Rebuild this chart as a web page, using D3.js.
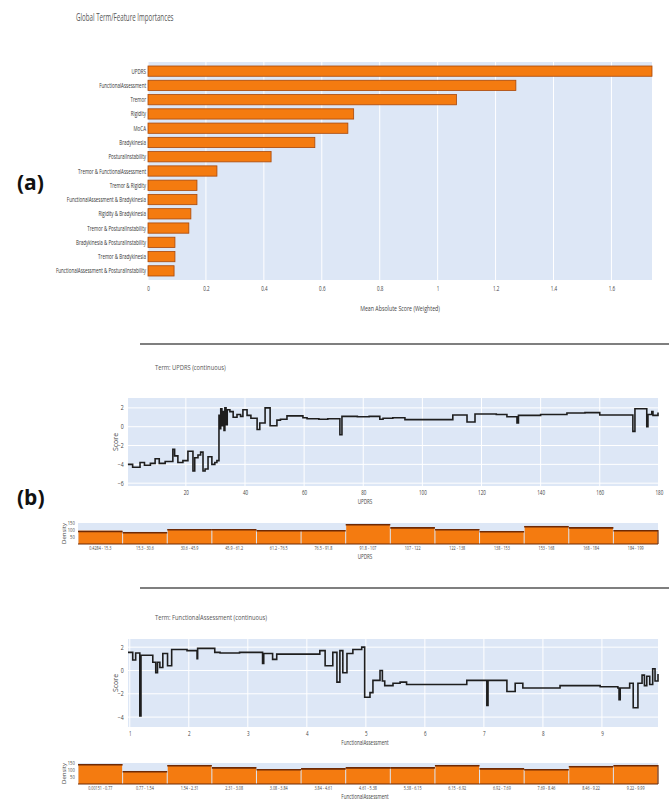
<!DOCTYPE html>
<html>
<head>
<meta charset="utf-8">
<script src="https://cdn.jsdelivr.net/npm/d3@7"></script>
<style>
  body { margin: 0; background: #fff; }
  text { font-family: "Open Sans", "DejaVu Sans", sans-serif; }
  .domain { display: none; }
</style>
</head>
<body>
<div id="chart"></div>
<script>
// feature importances
var features = ["UPDRS", "FunctionalAssessment", "Tremor", "Rigidity", "MoCA", "Bradykinesia",
  "PosturalInstability", "Tremor & FunctionalAssessment", "Tremor & Rigidity",
  "FunctionalAssessment & Bradykinesia", "Rigidity & Bradykinesia", "Tremor & PosturalInstability",
  "Bradykinesia & PosturalInstability", "Tremor & Bradykinesia", "FunctionalAssessment & PosturalInstability"]
var importances = [1.74, 1.27, 1.065, 0.71, 0.69, 0.576, 0.425, 0.238, 0.169, 0.169, 0.148, 0.141, 0.093, 0.093, 0.09]
var importanceTicks = [0, 0.2, 0.4, 0.6, 0.8, 1, 1.2, 1.4, 1.6]

// UPDRS term
var updrsX = [0.4, 2, 4.5, 6, 8, 9.6, 11, 13, 15.6, 16.2, 17.3, 19, 20.7, 22.4, 23, 24.1, 25, 25.8, 26.5, 27.5,
  28.8, 29.8, 30.5, 31.2, 31.5, 31.8, 32.2, 32.5, 32.9, 33.2, 33.6, 34, 34.9, 36, 37.3, 38.5, 39.3, 40.7, 42, 44.1,
  45, 46.8, 48.5, 50.8, 52, 54.2, 57, 59.6, 61, 65, 68, 72.1, 72.8, 78, 82, 85.6, 86.7, 90, 94.1, 101.5,
  110.3, 115.1, 117.8, 125, 128.6, 132, 132.5, 140, 148.9, 155, 160, 171.2, 171.9, 175.9, 176.3, 177.6, 178, 179.7]
var updrsScore = [-4.0, -4.3, -3.8, -4.1, -3.9, -3.4, -3.9, -3.7, -2.4, -3.1, -3.8, -3.6, -2.6, -4.7, -3.3, -3.0, -2.7, -4.7, -4.5, -3.2,
  -4.0, -3.8, -3.6, 1.2, -0.2, 1.9, 0.1, 1.6, -0.4, 2.0, 0.2, 1.8, 1.6, 1.0, 1.3, 1.1, 1.8, 1.2, 0.9, -0.3,
  0.4, 2.0, 0.1, 0.7, 0.8, 1.15, 1.15, 0.95, 0.85, 0.8, 0.85, -0.85, 1.1, 1.05, 1.1, 0.8, 0.9, 0.95, 0.75, 0.75,
  1.25, 0.5, 1.35, 1.3, 1.05, 0.4, 1.2, 1.3, 1.45, 1.5, 1.25, -0.5, 1.9, 0.0, 1.3, 1.6, 1.2, 1.5]
var updrsXTicks = [20, 40, 60, 80, 100, 120, 140, 160, 180]
var scoreTicksU = [2, 0, -2, -4, -6]

var updrsBins = ["0.4284 - 15.3", "15.3 - 30.6", "30.6 - 45.9", "45.9 - 61.2", "61.2 - 76.5", "76.5 - 91.8",
  "91.8 - 107", "107 - 122", "122 - 138", "138 - 153", "153 - 168", "168 - 184", "184 - 199"]
var updrsDensity = [95, 86, 107, 107, 100, 100, 143, 121, 107, 93, 129, 121, 100]

// FunctionalAssessment term
var faX = [0.97, 1.05, 1.1, 1.17, 1.19, 1.25, 1.39, 1.44, 1.47, 1.51, 1.56, 1.64, 1.71, 1.97, 2.14, 2.15, 2.19, 2.44, 2.53, 2.86,
  3.25, 3.27, 3.29, 3.42, 3.49, 4.22, 4.31, 4.34, 4.44, 4.51, 4.56, 4.61, 4.68, 4.78, 4.93, 4.98, 5.07, 5.12, 5.24, 5.28,
  5.32, 5.46, 5.58, 5.69, 6.71, 7.05, 7.07, 7.39, 7.53, 7.66, 8.29, 8.97, 9.27, 9.29, 9.31, 9.47, 9.53, 9.61, 9.68, 9.72,
  9.76, 9.81, 9.86, 9.9, 9.95]
var faScore = [1.55, 0.9, 1.5, -3.9, 1.3, 1.3, 0.7, -0.2, 0.7, 0.26, 1.45, 0.4, 1.8, 1.7, 1.0, 1.9, 1.9, 1.55, 1.5, 1.55,
  0.6, 1.45, 1.45, 0.95, 1.4, 1.7, 0.4, 0.4, 1.55, -1.0, 1.7, -0.2, 1.45, 1.8, 2.0, -2.3, -1.9, -0.85, 0.0, -0.9,
  -1.3, -1.1, -1.0, -1.2, -0.85, -3.0, -0.85, -1.8, -1.1, -1.5, -1.3, -1.4, -1.5, -2.5, -1.5, -1.1, -3.2, -1.1, -0.4, -1.3,
  -0.5, -1.2, 0.15, -0.9, -0.3]
var faXTicks = [1, 2, 3, 4, 5, 6, 7, 8, 9]
var scoreTicksF = [2, 0, -2, -4]

var faBins = ["0.00151 - 0.77", "0.77 - 1.54", "1.54 - 2.31", "2.31 - 3.08", "3.08 - 3.84", "3.84 - 4.61",
  "4.61 - 5.38", "5.38 - 6.15", "6.15 - 6.92", "6.92 - 7.69", "7.69 - 8.46", "8.46 - 9.22", "9.22 - 9.99"]
var faDensity = [143, 93, 136, 121, 107, 114, 121, 121, 136, 114, 107, 129, 136]
var densityTicks = [50, 100, 150]

var width = 669, height = 802
var bg = "#dde7f6", orange = "#f47b10", edge = "#a8480a", lineCol = "#1e1e1e"

var svg = d3.select("#chart").append("svg")
    .attr("width", width)
    .attr("height", height)

// condensed text helper (the figure is squeezed horizontally)
function ctext(x, y, str, size, anchor, sx, color) {
  return svg.append("text")
    .attr("transform", "translate(" + x + "," + y + ") scale(" + sx + ",1)")
    .attr("text-anchor", anchor)
    .style("font-size", size + "px")
    .style("fill", color || "#444")
    .text(str)
}

function styleAxis(g, sx, size) {
  g.selectAll(".tick line").remove()
  g.selectAll("text")
    .attr("transform", "scale(" + sx + ",1)")
    .style("font-size", (size || 7) + "px")
    .style("fill", "#444")
}

// ---------------- (a) global importances ----------------
var aL = 148, aR = 652, aT = 62, aB = 280

ctext(76, 21, "Global Term/Feature Importances", 10, "start", 0.62, "#555")

svg.append("rect").attr("x", aL).attr("y", aT).attr("width", aR - aL).attr("height", aB - aT).attr("fill", bg)

var xA = d3.scaleLinear().domain([0, 1.74]).range([aL, aR])
var yA = d3.scaleBand().domain(features).range([aT, aB]).padding(0.28)

svg.append("g").selectAll("line")
  .data(importanceTicks)
  .enter().append("line")
  .attr("x1", function(d) { return xA(d) }).attr("x2", function(d) { return xA(d) })
  .attr("y1", aT).attr("y2", aB)
  .attr("stroke", "#fff").attr("stroke-width", 1)

svg.append("g").selectAll("rect")
  .data(features)
  .enter().append("rect")
  .attr("x", aL)
  .attr("y", function(d) { return yA(d) })
  .attr("width", function(d, i) { return xA(importances[i]) - aL })
  .attr("height", yA.bandwidth())
  .attr("fill", orange)
  .attr("stroke", edge)
  .attr("stroke-width", 0.8)

features.forEach(function(f) {
  ctext(aL - 2, yA(f) + yA.bandwidth() / 2 + 2.5, f, 7.5, "end", 0.6, "#333")
})

var axA = svg.append("g")
  .attr("transform", "translate(0," + (aB + 3) + ")")
  .call(d3.axisBottom(xA).tickValues(importanceTicks).tickSize(0).tickFormat(d3.format("")))
styleAxis(axA, 0.65)

ctext((aL + aR) / 2, 311, "Mean Absolute Score (Weighted)", 8, "middle", 0.66, "#444")

svg.append("text").attr("x", 17).attr("y", 190)
  .style("font-size", "21px").style("font-weight", "bold").style("fill", "#111")
  .text("(a)")

// ---------------- (b) shape functions ----------------
svg.append("text").attr("x", 17).attr("y", 505)
  .style("font-size", "21px").style("font-weight", "bold").style("fill", "#111")
  .text("(b)")

svg.append("line").attr("x1", 140).attr("x2", 669).attr("y1", 344).attr("y2", 344)
  .attr("stroke", "#555").attr("stroke-width", 1.5)
svg.append("line").attr("x1", 140).attr("x2", 669).attr("y1", 588).attr("y2", 588)
  .attr("stroke", "#555").attr("stroke-width", 1.5)

function scorePanel(opts) {
  var x = d3.scaleLinear().domain(opts.xDomain).range([opts.left, opts.right])
  var y = d3.scaleLinear().domain(opts.yDomain).range([opts.bottom, opts.top])

  ctext(155, opts.titleY, opts.title, 8, "start", 0.72, "#555")

  svg.append("rect").attr("x", opts.left).attr("y", opts.top)
    .attr("width", opts.right - opts.left).attr("height", opts.bottom - opts.top).attr("fill", bg)

  svg.append("g").selectAll("line")
    .data(opts.yTicks)
    .enter().append("line")
    .attr("x1", opts.left).attr("x2", opts.right)
    .attr("y1", function(d) { return y(d) }).attr("y2", function(d) { return y(d) })
    .attr("stroke", "#fff")
  svg.append("g").selectAll("line")
    .data(opts.xTicks.filter(function(d) { return x(d) < opts.right }))
    .enter().append("line")
    .attr("x1", function(d) { return x(d) }).attr("x2", function(d) { return x(d) })
    .attr("y1", opts.top).attr("y2", opts.bottom)
    .attr("stroke", "#fff")

  var pts = opts.xs.map(function(v, i) { return [v, opts.ys[i]] })
  var line = d3.line()
    .x(function(d) { return x(d[0]) })
    .y(function(d) { return y(d[1]) })
    .curve(d3.curveStepAfter)
  svg.append("path").datum(pts)
    .attr("d", line)
    .attr("fill", "none")
    .attr("stroke", lineCol)
    .attr("stroke-width", 1.6)

  var ax = svg.append("g").attr("transform", "translate(0," + (opts.bottom + 1) + ")")
    .call(d3.axisBottom(x).tickValues(opts.xTicks).tickSize(0))
  styleAxis(ax, 0.7, 6.5)
  var ay = svg.append("g").attr("transform", "translate(" + (opts.left - 2) + ",0)")
    .call(d3.axisLeft(y).tickValues(opts.yTicks).tickSize(0))
  styleAxis(ay, 0.8, 6.5)

  ctext(365, opts.bottom + 18, opts.xTitle, 6.5, "middle", 0.7, "#444")
  svg.append("text")
    .attr("transform", "translate(" + (opts.left - 10) + "," + ((opts.top + opts.bottom) / 2) + ") rotate(-90)")
    .attr("text-anchor", "middle").style("font-size", "7px").style("fill", "#444")
    .text("Score")
}

function densityPanel(opts) {
  var x = d3.scaleBand().domain(opts.bins).range([opts.left, opts.right]).padding(0)
  var y = d3.scaleLinear().domain([0, 150]).range([opts.bottom, opts.top])

  svg.append("rect").attr("x", opts.left).attr("y", opts.top)
    .attr("width", opts.right - opts.left).attr("height", opts.bottom - opts.top).attr("fill", bg)

  svg.append("g").selectAll("rect")
    .data(opts.bins)
    .enter().append("rect")
    .attr("x", function(d) { return x(d) + 0.5 })
    .attr("y", function(d, i) { return y(opts.values[i]) })
    .attr("width", x.bandwidth() - 1)
    .attr("height", function(d, i) { return opts.bottom - y(opts.values[i]) })
    .attr("fill", orange)
  svg.append("g").selectAll("line")
    .data(opts.bins)
    .enter().append("line")
    .attr("x1", function(d) { return x(d) }).attr("x2", function(d) { return x(d) + x.bandwidth() })
    .attr("y1", function(d, i) { return y(opts.values[i]) + 0.8 })
    .attr("y2", function(d, i) { return y(opts.values[i]) + 0.8 })
    .attr("stroke", "#6e2a05").attr("stroke-width", 1.6)
  svg.append("line").attr("x1", opts.left).attr("x2", opts.right)
    .attr("y1", opts.bottom).attr("y2", opts.bottom)
    .attr("stroke", "#6e2a05").attr("stroke-width", 1.2)
  svg.append("line").attr("x1", opts.right).attr("x2", opts.right)
    .attr("y1", y(opts.values[opts.values.length - 1])).attr("y2", opts.bottom)
    .attr("stroke", "#6e2a05").attr("stroke-width", 1.2)

  var ax = svg.append("g").attr("transform", "translate(0," + (opts.bottom - 1) + ")")
    .call(d3.axisBottom(x).tickSize(0))
  styleAxis(ax, 0.62, 6)
  var ay = svg.append("g").attr("transform", "translate(" + (opts.left - 1) + ",0)")
    .call(d3.axisLeft(y).tickValues(densityTicks).tickSize(0))
  styleAxis(ay, 0.75, 5.5)

  ctext(365, opts.bottom + 15, opts.xTitle, 6.5, "middle", 0.7, "#444")
  svg.append("text")
    .attr("transform", "translate(" + (opts.left - 12) + "," + ((opts.top + opts.bottom) / 2) + ") rotate(-90)")
    .attr("text-anchor", "middle").style("font-size", "6px").style("fill", "#444")
    .text("Density")
}

scorePanel({
  title: "Term: UPDRS (continuous)", titleY: 370, xTitle: "UPDRS",
  left: 128, right: 658, top: 398, bottom: 486,
  xDomain: [0.43, 179.7], yDomain: [-6.3, 3.05],
  xTicks: updrsXTicks, yTicks: scoreTicksU, xs: updrsX, ys: updrsScore
})
densityPanel({
  left: 78, right: 658, top: 523, bottom: 544,
  bins: updrsBins, values: updrsDensity, xTitle: "UPDRS"
})

scorePanel({
  title: "Term: FunctionalAssessment (continuous)", titleY: 620, xTitle: "FunctionalAssessment",
  left: 128, right: 658, top: 639, bottom: 727,
  xDomain: [0.97, 9.95], yDomain: [-4.85, 2.7],
  xTicks: faXTicks, yTicks: scoreTicksF, xs: faX, ys: faScore
})
densityPanel({
  left: 78, right: 658, top: 763, bottom: 784,
  bins: faBins, values: faDensity, xTitle: "FunctionalAssessment"
})
</script>
</body>
</html>
